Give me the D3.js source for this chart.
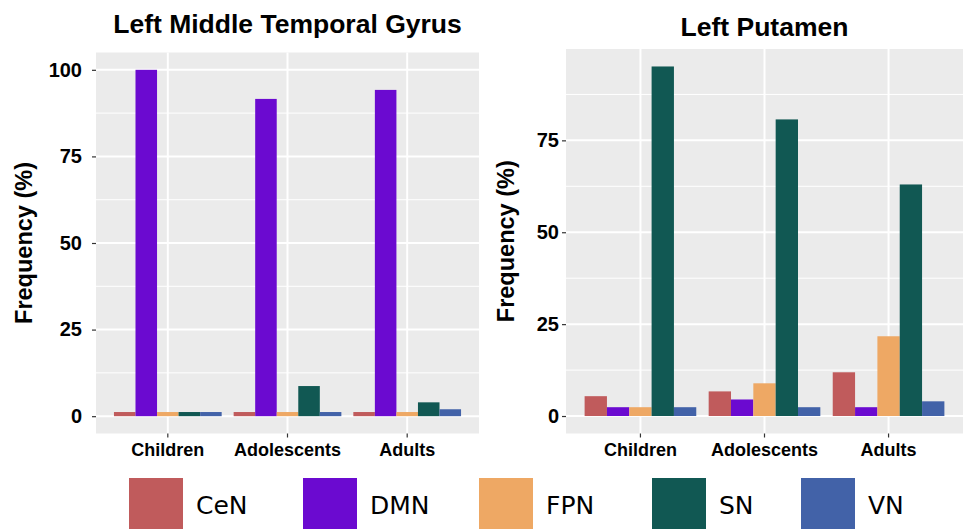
<!DOCTYPE html>
<html>
<head>
<meta charset="utf-8">
<script src="https://cdn.jsdelivr.net/npm/d3@7"></script>
<style>
  html, body { margin: 0; padding: 0; background: #ffffff; }
  svg { display: block; }
</style>
</head>
<body>
<svg id="chart" width="967" height="529"></svg>
<script>
// ---------------- data ----------------
const groups = ["Children", "Adolescents", "Adults"];
const networks = ["CeN", "DMN", "FPN", "SN", "VN"];
const networkColors = ["#C05B5C", "#6B0AD0", "#EEA864", "#115853", "#4262A8"];

// Left Middle Temporal Gyrus (values per group: Children, Adolescents, Adults)
const mtgCeN = [1.2, 1.2, 1.2];
const mtgDMN = [100, 91.6, 94.2];
const mtgFPN = [1.2, 1.2, 1.2];
const mtgSN  = [1.2, 8.7, 4.0];
const mtgVN  = [1.2, 1.2, 2.0];

// Left Putamen
const putCeN = [5.4, 6.7, 11.9];
const putDMN = [2.4, 4.5, 2.4];
const putFPN = [2.4, 8.9, 21.7];
const putSN  = [95.1, 80.7, 63.0];
const putVN  = [2.4, 2.4, 4.0];

const yTickValues = [0, 25, 50, 75, 100];

const panelTitles = ["Left Middle Temporal Gyrus", "Left Putamen"];
const panelSeries = [
  [mtgCeN, mtgDMN, mtgFPN, mtgSN, mtgVN],
  [putCeN, putDMN, putFPN, putSN, putVN]
];

// ---------------- layout ----------------
const layouts = [
  { x0: 96,  x1: 479, y0: 52.5, y1: 433.5, labelX: 82,  yTitleX: 32,  titleY: 33 },
  { x0: 566, x1: 963, y0: 49,   y1: 433.5, labelX: 559, yTitleX: 514, titleY: 35.5 }
];
const legendX = [129, 303, 479, 652, 801];

const svg = d3.select("#chart");
const boldFont = "'Liberation Sans', Arial, Helvetica, sans-serif";

panelSeries.forEach((series, pi) => {
  const L = layouts[pi];
  const rows = [];
  groups.forEach((g, gi) => {
    networks.forEach((n, ni) => {
      rows.push({ group: g, network: n, ni: ni, value: series[ni][gi] });
    });
  });
  const maxV = d3.max(rows, d => d.value);

  const x = d3.scaleBand().domain(groups).range([L.x0, L.x1])
    .paddingInner(0.1).paddingOuter(0.15);
  const xSub = d3.scaleBand().domain(networks).range([0, x.bandwidth()]).padding(0);
  const y = d3.scaleLinear().domain([-0.05 * maxV, 1.05 * maxV]).range([L.y1, L.y0]);

  const g = svg.append("g");

  // background
  g.append("rect")
    .attr("x", L.x0).attr("y", L.y0)
    .attr("width", L.x1 - L.x0).attr("height", L.y1 - L.y0)
    .attr("fill", "#EBEBEB");

  const [dmin, dmax] = y.domain();
  const majors = yTickValues.filter(v => v >= dmin && v <= dmax);
  const minors = d3.range(-12.5, 125, 25).filter(v => v >= dmin && v <= dmax);

  g.selectAll("line.minor").data(minors).join("line")
    .attr("x1", L.x0).attr("x2", L.x1)
    .attr("y1", d => y(d)).attr("y2", d => y(d))
    .attr("stroke", "#ffffff").attr("stroke-width", 1);

  g.selectAll("line.majorY").data(majors).join("line")
    .attr("x1", L.x0).attr("x2", L.x1)
    .attr("y1", d => y(d)).attr("y2", d => y(d))
    .attr("stroke", "#ffffff").attr("stroke-width", 2);

  g.selectAll("line.majorX").data(groups).join("line")
    .attr("x1", d => x(d) + x.bandwidth() / 2).attr("x2", d => x(d) + x.bandwidth() / 2)
    .attr("y1", L.y0).attr("y2", L.y1)
    .attr("stroke", "#ffffff").attr("stroke-width", 2);

  // bars
  g.selectAll("rect.bar").data(rows).join("rect")
    .attr("class", "bar")
    .attr("x", d => x(d.group) + xSub(d.network))
    .attr("width", xSub.bandwidth())
    .attr("y", d => y(d.value))
    .attr("height", d => y(0) - y(d.value))
    .attr("fill", d => networkColors[d.ni]);

  // y axis
  const yAxis = d3.axisLeft(y).tickValues(majors).tickSize(4).tickPadding(L.x0 - 4 - L.labelX);
  const ya = g.append("g").attr("transform", `translate(${L.x0},0)`).call(yAxis);
  ya.select(".domain").remove();
  ya.selectAll(".tick line").attr("stroke", "#333333").attr("stroke-width", 1.2);
  ya.selectAll(".tick text")
    .attr("fill", "#000").attr("font-family", boldFont)
    .attr("font-weight", "bold").attr("font-size", 20);

  // x axis
  const xAxis = d3.axisBottom(x).tickSize(4).tickPadding(6);
  const xa = g.append("g").attr("transform", `translate(0,${L.y1})`).call(xAxis);
  xa.select(".domain").remove();
  xa.selectAll(".tick line").attr("stroke", "#333333").attr("stroke-width", 1.2);
  xa.selectAll(".tick text")
    .attr("fill", "#000").attr("font-family", boldFont)
    .attr("font-weight", "bold").attr("font-size", 18)
    .attr("dy", null).attr("y", 22.5);

  // y title
  g.append("text")
    .attr("transform", `translate(${L.yTitleX},${(L.y0 + L.y1) / 2}) rotate(-90)`)
    .attr("text-anchor", "middle")
    .attr("font-family", boldFont).attr("font-weight", "bold").attr("font-size", 23.5)
    .attr("fill", "#000")
    .text("Frequency (%)");

  // panel title
  g.append("text")
    .attr("x", (L.x0 + L.x1) / 2).attr("y", L.titleY)
    .attr("text-anchor", "middle")
    .attr("font-family", boldFont).attr("font-weight", "bold").attr("font-size", 26.5)
    .attr("fill", "#000")
    .text(panelTitles[pi]);
});

// ---------------- legend ----------------
const lg = svg.append("g");
const items = lg.selectAll("g.item").data(networks).join("g")
  .attr("transform", (d, i) => `translate(${legendX[i]},478)`);
items.append("rect")
  .attr("width", 54).attr("height", 54)
  .attr("fill", (d, i) => networkColors[i]);
items.append("text")
  .attr("x", 67).attr("y", 36.3)
  .attr("font-family", "'DejaVu Sans', sans-serif").attr("font-size", 25)
  .attr("fill", "#000")
  .text(d => d);
</script>
</body>
</html>
